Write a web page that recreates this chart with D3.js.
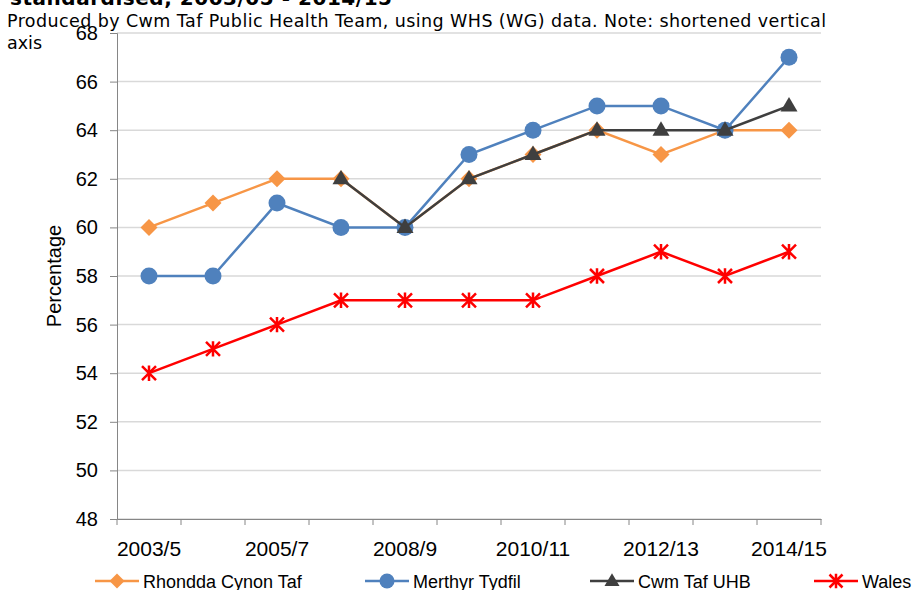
<!DOCTYPE html>
<html>
<head>
<meta charset="utf-8">
<script src="https://cdn.jsdelivr.net/npm/d3@7"></script>
<style>
  body { margin: 0; background: #fff; }
  svg { display: block; }
</style>
</head>
<body>
<div id="chart"></div>
<script>
const dims = { width: 914, height: 590, top: 33, left: 117, right: 93, bottom: 71 };

const categories = ["2003/5", "2004/6", "2005/7", "2007/8", "2008/9", "2009/10",
    "2010/11", "2011/12", "2012/13", "2013/14", "2014/15"];
const rhondda = [60, 61, 62, 62, 60, 62, 63, 64, 63, 64, 64];
const merthyr = [58, 58, 61, 60, 60, 63, 64, 65, 65, 64, 67];
const cwmTaf = [null, null, null, 62, 60, 62, 63, 64, 64, 64, 65];
const wales = [54, 55, 56, 57, 57, 57, 57, 58, 59, 58, 59];
const yTicks = [48, 50, 52, 54, 56, 58, 60, 62, 64, 66, 68];

const series = [
    { name: "Rhondda Cynon Taf", values: rhondda, color: "#f79646", marker: "diamond" },
    { name: "Merthyr Tydfil", values: merthyr, color: "#4f81bd", marker: "circle" },
    { name: "Cwm Taf UHB", values: cwmTaf, color: "#3f3f3f", marker: "triangle" },
    { name: "Wales", values: wales, color: "#ff0000", marker: "star" }
];

const svg = d3.select("#chart")
    .append("svg")
    .attr("width", dims.width)
    .attr("height", dims.height);

const x = d3.scaleBand()
    .domain(categories)
    .range([dims.left, dims.width - dims.right]);

const y = d3.scaleLinear()
    .domain([48, 68])
    .range([dims.height - dims.bottom, dims.top]);

// gridlines
svg.append("g")
    .selectAll("line")
    .data(yTicks)
    .join("line")
    .attr("x1", dims.left)
    .attr("x2", dims.width - dims.right)
    .attr("y1", d => y(d))
    .attr("y2", d => y(d))
    .style("stroke", "#d9d9d9")
    .style("stroke-width", 1.5);

// y axis
const yAxis = svg.append("g")
    .attr("transform", `translate(${dims.left},0)`)
    .call(d3.axisLeft(y).tickValues(yTicks).tickSize(7).tickPadding(12));
yAxis.select(".domain").style("stroke", "#868686");
yAxis.selectAll(".tick line").style("stroke", "#868686");
yAxis.selectAll("text")
    .style("font-family", "Liberation Sans, Arial, sans-serif")
    .style("font-size", "20px")
    .style("fill", "#000");

// x axis (labels on every other category)
const xAxis = svg.append("g")
    .attr("transform", `translate(0,${y(48)})`)
    .call(d3.axisBottom(x)
        .tickSize(0)
        .tickPadding(22)
        .tickFormat((d, i) => i % 2 === 0 ? d : ""));
xAxis.select(".domain").style("stroke", "#868686");
xAxis.selectAll("text")
    .style("font-family", "Liberation Sans, Arial, sans-serif")
    .style("font-size", "21px")
    .style("fill", "#000");

// category boundary ticks
const bounds = categories.map(c => x(c)).concat([x(categories[categories.length - 1]) + x.bandwidth()]);
svg.append("g")
    .selectAll("line")
    .data(bounds)
    .join("line")
    .attr("x1", d => d)
    .attr("x2", d => d)
    .attr("y1", y(48))
    .attr("y2", y(48) + 6)
    .style("stroke", "#868686");

// y title
svg.append("text")
    .attr("transform", `translate(61,${(y(48) + y(68)) / 2}) rotate(-90)`)
    .style("text-anchor", "middle")
    .style("font-family", "Liberation Sans, Arial, sans-serif")
    .style("font-size", "20px")
    .text("Percentage");

// title and subtitle
svg.append("text")
    .attr("x", 10).attr("y", 5)
    .attr("textLength", 382)
    .style("font-family", "DejaVu Sans, Verdana, sans-serif")
    .style("font-weight", "bold")
    .style("font-size", "20px")
    .text("standardised, 2003/05 - 2014/15");

svg.append("text")
    .attr("x", 7).attr("y", 27)
    .attr("textLength", 819)
    .style("font-family", "DejaVu Sans, Verdana, sans-serif")
    .style("font-size", "17.5px")
    .text("Produced by Cwm Taf Public Health Team, using WHS (WG) data. Note: shortened vertical");

svg.append("text")
    .attr("x", 7).attr("y", 49)
    .style("font-family", "DejaVu Sans, Verdana, sans-serif")
    .style("font-size", "17.5px")
    .text("axis");

const cx = c => x(c) + x.bandwidth() / 2;

function drawMarker(g, type, color, size) {
    const r = size / 2;
    if (type === "circle") {
        g.append("circle").attr("r", r).style("fill", color);
    } else if (type === "diamond") {
        g.append("path").attr("d", `M0,${-r}L${r},0L0,${r}L${-r},0Z`).style("fill", color);
    } else if (type === "triangle") {
        g.append("path")
            .attr("d", `M0,${-r * 1.05}L${r},${r * 0.65}L${-r},${r * 0.65}Z`)
            .style("fill", color);
    } else if (type === "star") {
        g.append("path")
            .attr("d", `M${-r},${-r}L${r},${r}M${r},${-r}L${-r},${r}M0,${-r * 1.1}L0,${r * 1.1}`)
            .style("stroke", color)
            .style("stroke-width", 2.5)
            .style("fill", "none");
    }
}

const line = d3.line()
    .defined(d => d.v != null)
    .x(d => cx(d.c))
    .y(d => y(d.v));

series.forEach(s => {
    const pts = categories.map((c, i) => ({ c, v: s.values[i] }));
    const g = svg.append("g").attr("class", "series");
    g.append("path")
        .datum(pts)
        .attr("d", line)
        .style("fill", "none")
        .style("stroke", s.color)
        .style("stroke-width", 2.5);
    g.selectAll("g.marker")
        .data(pts.filter(d => d.v != null))
        .join("g")
        .attr("class", "marker")
        .attr("transform", d => `translate(${cx(d.c)},${y(d.v)})`)
        .each(function () {
            drawMarker(d3.select(this), s.marker, s.color, s.marker === "star" ? 14 : 17);
        });
});

// legend
const legendX = [95, 365, 590, 814];
const legend = svg.append("g")
    .selectAll("g")
    .data(series)
    .join("g")
    .attr("transform", (d, i) => `translate(${legendX[i]},581)`);

legend.append("line")
    .attr("x1", 0).attr("x2", 44)
    .style("stroke", d => d.color)
    .style("stroke-width", 2.5);

legend.append("g")
    .attr("transform", "translate(22,0)")
    .each(function (d) {
        drawMarker(d3.select(this), d.marker, d.color, d.marker === "star" ? 13 : 15);
    });

legend.append("text")
    .attr("x", 48)
    .attr("y", 7)
    .style("font-family", "Liberation Sans, Arial, sans-serif")
    .style("font-size", "18px")
    .text(d => d.name);
</script>
</body>
</html>
